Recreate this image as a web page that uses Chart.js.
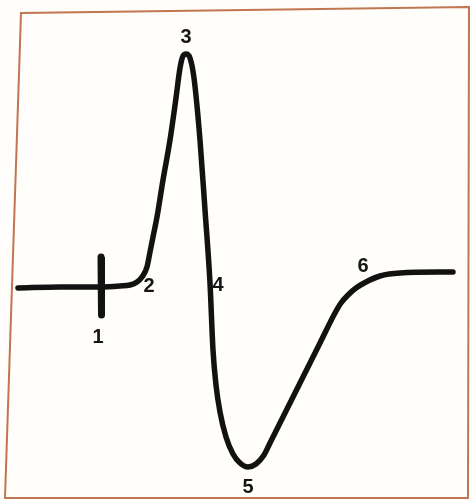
<!DOCTYPE html>
<html>
<head>
<meta charset="utf-8">
<script src="https://cdn.jsdelivr.net/npm/chart.js@4/dist/chart.umd.min.js"></script>
<style>
  html, body { margin: 0; padding: 0; background: #ffffff; }
  canvas { display: block; }
</style>
</head>
<body>
<canvas id="c" width="470" height="501"></canvas>
<script>
// Waveform (time units, amplitude units; baseline = 0)
const waveTime = [0, 42, 82, 102, 112, 119, 124, 129, 132, 135, 139, 145, 152, 158, 162, 165, 168, 172, 176, 182, 187, 192, 195, 198, 202, 208, 215, 222, 230, 238, 246, 252, 282, 302, 317, 323, 330, 338, 348, 362, 382, 435];
const waveAmp  = [0, 1, 1, 2, 3, 6, 11, 21, 36, 51, 71, 108, 148, 190, 220, 232, 234, 230, 210, 148, 78, 5, -62, -97, -124, -149, -166, -175, -179, -176, -167, -155, -95, -55, -25, -15, -7, 0, 6, 12, 15, 16];
// Stimulus artifact
const stimTime = [83, 83.5];
const stimAmp  = [31, -27];
// Point labels
const labelText = ['1', '2', '3', '4', '5', '6'];
const labelTime = [80, 131, 168, 200, 230, 345];
const labelAmp  = [-49, 2, 251, 3, -199, 22];

const wave = waveTime.map((t, i) => ({ x: t, y: waveAmp[i] }));
const stim = stimTime.map((t, i) => ({ x: t, y: stimAmp[i] }));

const framePlugin = {
  id: 'frame',
  beforeDraw(chart) {
    const ctx = chart.ctx;
    ctx.save();
    ctx.fillStyle = '#fffefb';
    ctx.fillRect(0, 0, chart.width, chart.height);
    ctx.beginPath();
    ctx.moveTo(21, 13);
    ctx.lineTo(469, 7);
    ctx.lineTo(468, 498);
    ctx.lineTo(5, 498);
    ctx.closePath();
    ctx.strokeStyle = '#c07650';
    ctx.lineWidth = 2;
    ctx.stroke();
    ctx.restore();
  }
};

const labelPlugin = {
  id: 'numLabels',
  afterDatasetsDraw(chart) {
    const ctx = chart.ctx;
    const xs = chart.scales.x, ys = chart.scales.y;
    ctx.save();
    ctx.fillStyle = '#151515';
    ctx.font = 'bold 20px "Liberation Sans", Arial, sans-serif';
    ctx.textAlign = 'center';
    ctx.textBaseline = 'middle';
    labelText.forEach((s, i) => {
      ctx.fillText(s, xs.getPixelForValue(labelTime[i]), ys.getPixelForValue(labelAmp[i]));
    });
    ctx.restore();
  }
};

new Chart(document.getElementById('c'), {
  type: 'line',
  data: {
    datasets: [
      {
        data: wave,
        borderColor: '#121212',
        borderWidth: 5.5,
        pointRadius: 0,
        cubicInterpolationMode: 'monotone',
        borderCapStyle: 'round',
        borderJoinStyle: 'round',
        fill: false
      },
      {
        data: stim,
        borderColor: '#121212',
        borderWidth: 7,
        pointRadius: 0,
        borderCapStyle: 'round',
        fill: false
      }
    ]
  },
  plugins: [framePlugin, labelPlugin],
  options: {
    responsive: false,
    animation: false,
    events: [],
    layout: { padding: 0 },
    plugins: { legend: { display: false }, tooltip: { enabled: false } },
    scales: {
      x: { type: 'linear', min: -18, max: 452, display: false },
      y: { type: 'linear', min: -213, max: 288, display: false }
    }
  }
});
</script>
</body>
</html>
